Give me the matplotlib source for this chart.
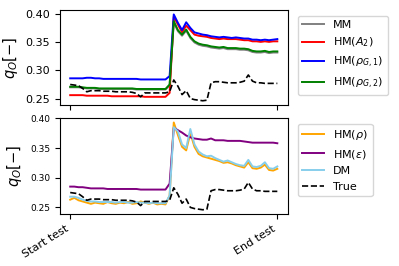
import numpy as np
import matplotlib
matplotlib.use("Agg")
import matplotlib.pyplot as plt

# time index (arbitrary units, 0 = start of test, 100 = end of test)
t = list(range(0, 101, 2))

true_q = [0.275, 0.274, 0.273, 0.268, 0.262, 0.264, 0.264, 0.264, 0.263, 0.263,
          0.263, 0.262, 0.262, 0.262, 0.262, 0.261, 0.259, 0.253, 0.260, 0.260,
          0.260, 0.260, 0.260, 0.260, 0.262, 0.283, 0.272, 0.257, 0.264, 0.250,
          0.248, 0.247, 0.246, 0.247, 0.278, 0.280, 0.280, 0.279, 0.278, 0.278,
          0.278, 0.279, 0.281, 0.292, 0.281, 0.278, 0.278, 0.277, 0.277, 0.277,
          0.277]

hm_rg1 = [0.286, 0.286, 0.286, 0.286, 0.287, 0.287, 0.286, 0.286, 0.285, 0.285,
          0.285, 0.285, 0.285, 0.285, 0.285, 0.285, 0.285, 0.284, 0.284, 0.284,
          0.284, 0.284, 0.284, 0.284, 0.290, 0.400, 0.385, 0.372, 0.386, 0.376,
          0.368, 0.366, 0.364, 0.363, 0.361, 0.360, 0.359, 0.360, 0.359, 0.358,
          0.359, 0.358, 0.357, 0.357, 0.355, 0.355, 0.354, 0.355, 0.354, 0.355,
          0.356]

hm_a2 = [0.256, 0.256, 0.256, 0.256, 0.255, 0.255, 0.255, 0.255, 0.255, 0.255,
         0.254, 0.254, 0.254, 0.254, 0.254, 0.254, 0.254, 0.254, 0.253, 0.253,
         0.253, 0.253, 0.253, 0.253, 0.260, 0.396, 0.382, 0.368, 0.380, 0.372,
         0.364, 0.362, 0.361, 0.360, 0.358, 0.357, 0.356, 0.357, 0.356, 0.356,
         0.356, 0.355, 0.354, 0.354, 0.352, 0.352, 0.351, 0.352, 0.351, 0.352,
         0.352]

hm_rg2 = [0.271, 0.271, 0.271, 0.270, 0.269, 0.269, 0.269, 0.268, 0.268, 0.268,
          0.268, 0.268, 0.268, 0.268, 0.268, 0.268, 0.267, 0.267, 0.267, 0.267,
          0.267, 0.267, 0.267, 0.267, 0.275, 0.388, 0.372, 0.364, 0.373, 0.360,
          0.352, 0.348, 0.346, 0.345, 0.343, 0.342, 0.341, 0.342, 0.340, 0.340,
          0.340, 0.339, 0.339, 0.338, 0.335, 0.334, 0.334, 0.335, 0.333, 0.334,
          0.334]

mm = [0.270, 0.270, 0.270, 0.269, 0.268, 0.268, 0.268, 0.267, 0.267, 0.267,
      0.267, 0.267, 0.267, 0.267, 0.267, 0.267, 0.266, 0.266, 0.266, 0.266,
      0.266, 0.266, 0.266, 0.266, 0.273, 0.386, 0.370, 0.362, 0.371, 0.358,
      0.350, 0.346, 0.344, 0.343, 0.341, 0.340, 0.339, 0.340, 0.338, 0.338,
      0.338, 0.337, 0.337, 0.336, 0.333, 0.332, 0.332, 0.333, 0.331, 0.332,
      0.332]

hm_rho = [0.263, 0.266, 0.262, 0.260, 0.258, 0.256, 0.258, 0.257, 0.256, 0.259,
          0.257, 0.256, 0.258, 0.257, 0.259, 0.256, 0.257, 0.260, 0.258, 0.256,
          0.258, 0.255, 0.256, 0.255, 0.270, 0.393, 0.372, 0.352, 0.346, 0.375,
          0.352, 0.340, 0.336, 0.334, 0.332, 0.330, 0.328, 0.325, 0.326, 0.324,
          0.321, 0.319, 0.317, 0.326, 0.316, 0.315, 0.317, 0.322, 0.313, 0.312,
          0.315]

hm_eps = [0.285, 0.285, 0.284, 0.284, 0.283, 0.282, 0.282, 0.282, 0.282, 0.281,
          0.281, 0.281, 0.281, 0.281, 0.281, 0.281, 0.281, 0.280, 0.280, 0.280,
          0.280, 0.280, 0.280, 0.280, 0.290, 0.384, 0.380, 0.376, 0.371, 0.368,
          0.366, 0.365, 0.364, 0.364, 0.366, 0.363, 0.363, 0.363, 0.362, 0.362,
          0.362, 0.362, 0.361, 0.360, 0.359, 0.359, 0.359, 0.359, 0.359, 0.359,
          0.358]

dm = [0.268, 0.268, 0.266, 0.263, 0.261, 0.260, 0.260, 0.259, 0.259, 0.259,
      0.259, 0.258, 0.259, 0.259, 0.258, 0.258, 0.259, 0.258, 0.258, 0.257,
      0.258, 0.257, 0.257, 0.257, 0.270, 0.385, 0.378, 0.356, 0.350, 0.382,
      0.356, 0.344, 0.339, 0.336, 0.337, 0.333, 0.330, 0.327, 0.329, 0.326,
      0.323, 0.321, 0.320, 0.330, 0.319, 0.318, 0.320, 0.326, 0.316, 0.315,
      0.319]

yticks = [0.25, 0.30, 0.35, 0.40]
xtick_pos = [0, 100]
xtick_labels = ["Start test", "End test"]

fig = plt.figure(figsize=(3.99, 2.66), dpi=100)
ax1 = fig.add_axes([0.150, 0.605, 0.571, 0.357])
ax2 = fig.add_axes([0.150, 0.195, 0.571, 0.361])

lw = 1.4
ax1.plot(t, mm, color="gray", lw=lw, label="MM")
ax1.plot(t, hm_a2, color="red", lw=lw, label=r"HM($A_2$)")
ax1.plot(t, hm_rg1, color="blue", lw=lw, label=r"HM($\rho_{G,1}$)")
ax1.plot(t, hm_rg2, color="green", lw=lw, label=r"HM($\rho_{G,2}$)")
ax1.plot(t, true_q, color="black", lw=1.2, ls="--")

ax2.plot(t, hm_rho, color="orange", lw=lw, label=r"HM($\rho$)")
ax2.plot(t, hm_eps, color="purple", lw=lw, label=r"HM($\varepsilon$)")
ax2.plot(t, dm, color="skyblue", lw=lw, label="DM")
ax2.plot(t, true_q, color="black", lw=1.2, ls="--", label="True")

for ax, fs in ((ax1, 8), (ax2, 6.5)):
    ax.set_yticks(yticks)
    ax.set_yticklabels([f"{v:.2f}" for v in yticks], fontsize=fs)
    ax.set_xticks(xtick_pos)
    ax.set_ylabel(r"$q_O[-]$", fontsize=10.5)
    ax.legend(loc="upper left", bbox_to_anchor=(1.02, 1), fontsize=8)

ax1.set_xticklabels([])
ax2.set_xticklabels(xtick_labels, rotation=32, ha="right", fontsize=8)

fig.savefig("out.png", dpi=100)
